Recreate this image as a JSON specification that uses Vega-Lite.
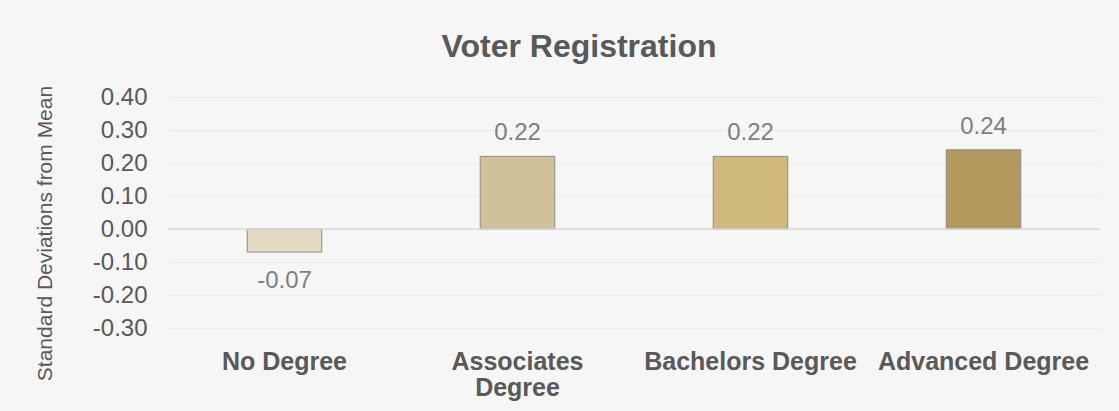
{
  "$schema": "https://vega.github.io/schema/vega-lite/v6.json",
  "width": 932,
  "height": 231,
  "autosize": {"type": "none"},
  "padding": {"left": 168, "top": 97, "right": 19, "bottom": 83},
  "background": "#f6f6f6",
  "config": {"font": "Liberation Sans", "view": {"stroke": null},
    "locale": {"number": {"decimal": ".", "thousands": ",", "grouping": [3], "currency": ["$", ""], "minus": "-"}}},
  "title": {"text": "Voter Registration", "fontSize": 32, "fontWeight": "bold", "color": "#595959", "anchor": "middle", "dx": -55, "offset": 21},
  "data": {"values": [
    {"degree": "No Degree", "value": -0.07},
    {"degree": "Associates Degree", "value": 0.22},
    {"degree": "Bachelors Degree", "value": 0.22},
    {"degree": "Advanced Degree", "value": 0.24}
  ]},
  "encoding": {
    "x": {"field": "degree", "type": "nominal", "sort": null,
      "scale": {"paddingInner": 0.68, "paddingOuter": 0.34},
      "axis": {"title": null, "domain": false, "ticks": false, "grid": false, "labelAngle": 0,
        "labelFontSize": 25, "labelFontWeight": "bold", "labelColor": "#595959", "labelPadding": 21,
        "labelLimit": 400, "labelLineHeight": 26,
        "labelExpr": "datum.label == 'Associates Degree' ? ['Associates', 'Degree'] : datum.label"}},
    "y": {"field": "value", "type": "quantitative",
      "scale": {"domain": [-0.3, 0.4], "nice": false, "zero": false},
      "axis": {"values": [-0.3, -0.2, -0.1, 0, 0.1, 0.2, 0.3, 0.4], "tickCount": 20, "format": ".2f",
        "labelOverlap": false, "labelFlush": false,
        "domain": false, "ticks": false, "labelFontSize": 24, "labelColor": "#595959", "labelPadding": 21,
        "gridColor": "#e9e9e9", "gridWidth": 1,
        "title": "Standard Deviations from Mean", "titleFontSize": 21, "titleFontWeight": "normal",
        "titleColor": "#595959", "titleX": -123, "titleY": 136, "titleAngle": -90,
        "titleAlign": "center", "titleBaseline": "middle"}}
  },
  "layer": [
    {
      "mark": {"type": "bar", "stroke": "#8c8c8c", "strokeWidth": 1},
      "encoding": {
        "color": {"field": "degree", "type": "nominal", "legend": null,
          "scale": {"domain": ["No Degree", "Associates Degree", "Bachelors Degree", "Advanced Degree"],
            "range": ["#e4d9c3", "#d0c19b", "#cfb87c", "#b2985d"]}}
      }
    },
    {
      "data": {"values": [{"zero": 0}]},
      "mark": {"type": "rule", "color": "#d9d9d9", "strokeWidth": 1.5},
      "encoding": {"x": null, "y": {"field": "zero", "type": "quantitative"}}
    },
    {
      "transform": [{"filter": "datum.value >= 0"}],
      "mark": {"type": "text", "fontSize": 24, "color": "#7f7f7f", "baseline": "alphabetic", "dy": -16},
      "encoding": {"text": {"field": "value", "type": "quantitative", "format": ".2f"}}
    },
    {
      "transform": [{"filter": "datum.value < 0"}],
      "mark": {"type": "text", "fontSize": 24, "color": "#7f7f7f", "baseline": "alphabetic", "dy": 36},
      "encoding": {"text": {"field": "value", "type": "quantitative", "format": ".2f"}}
    }
  ]
}
